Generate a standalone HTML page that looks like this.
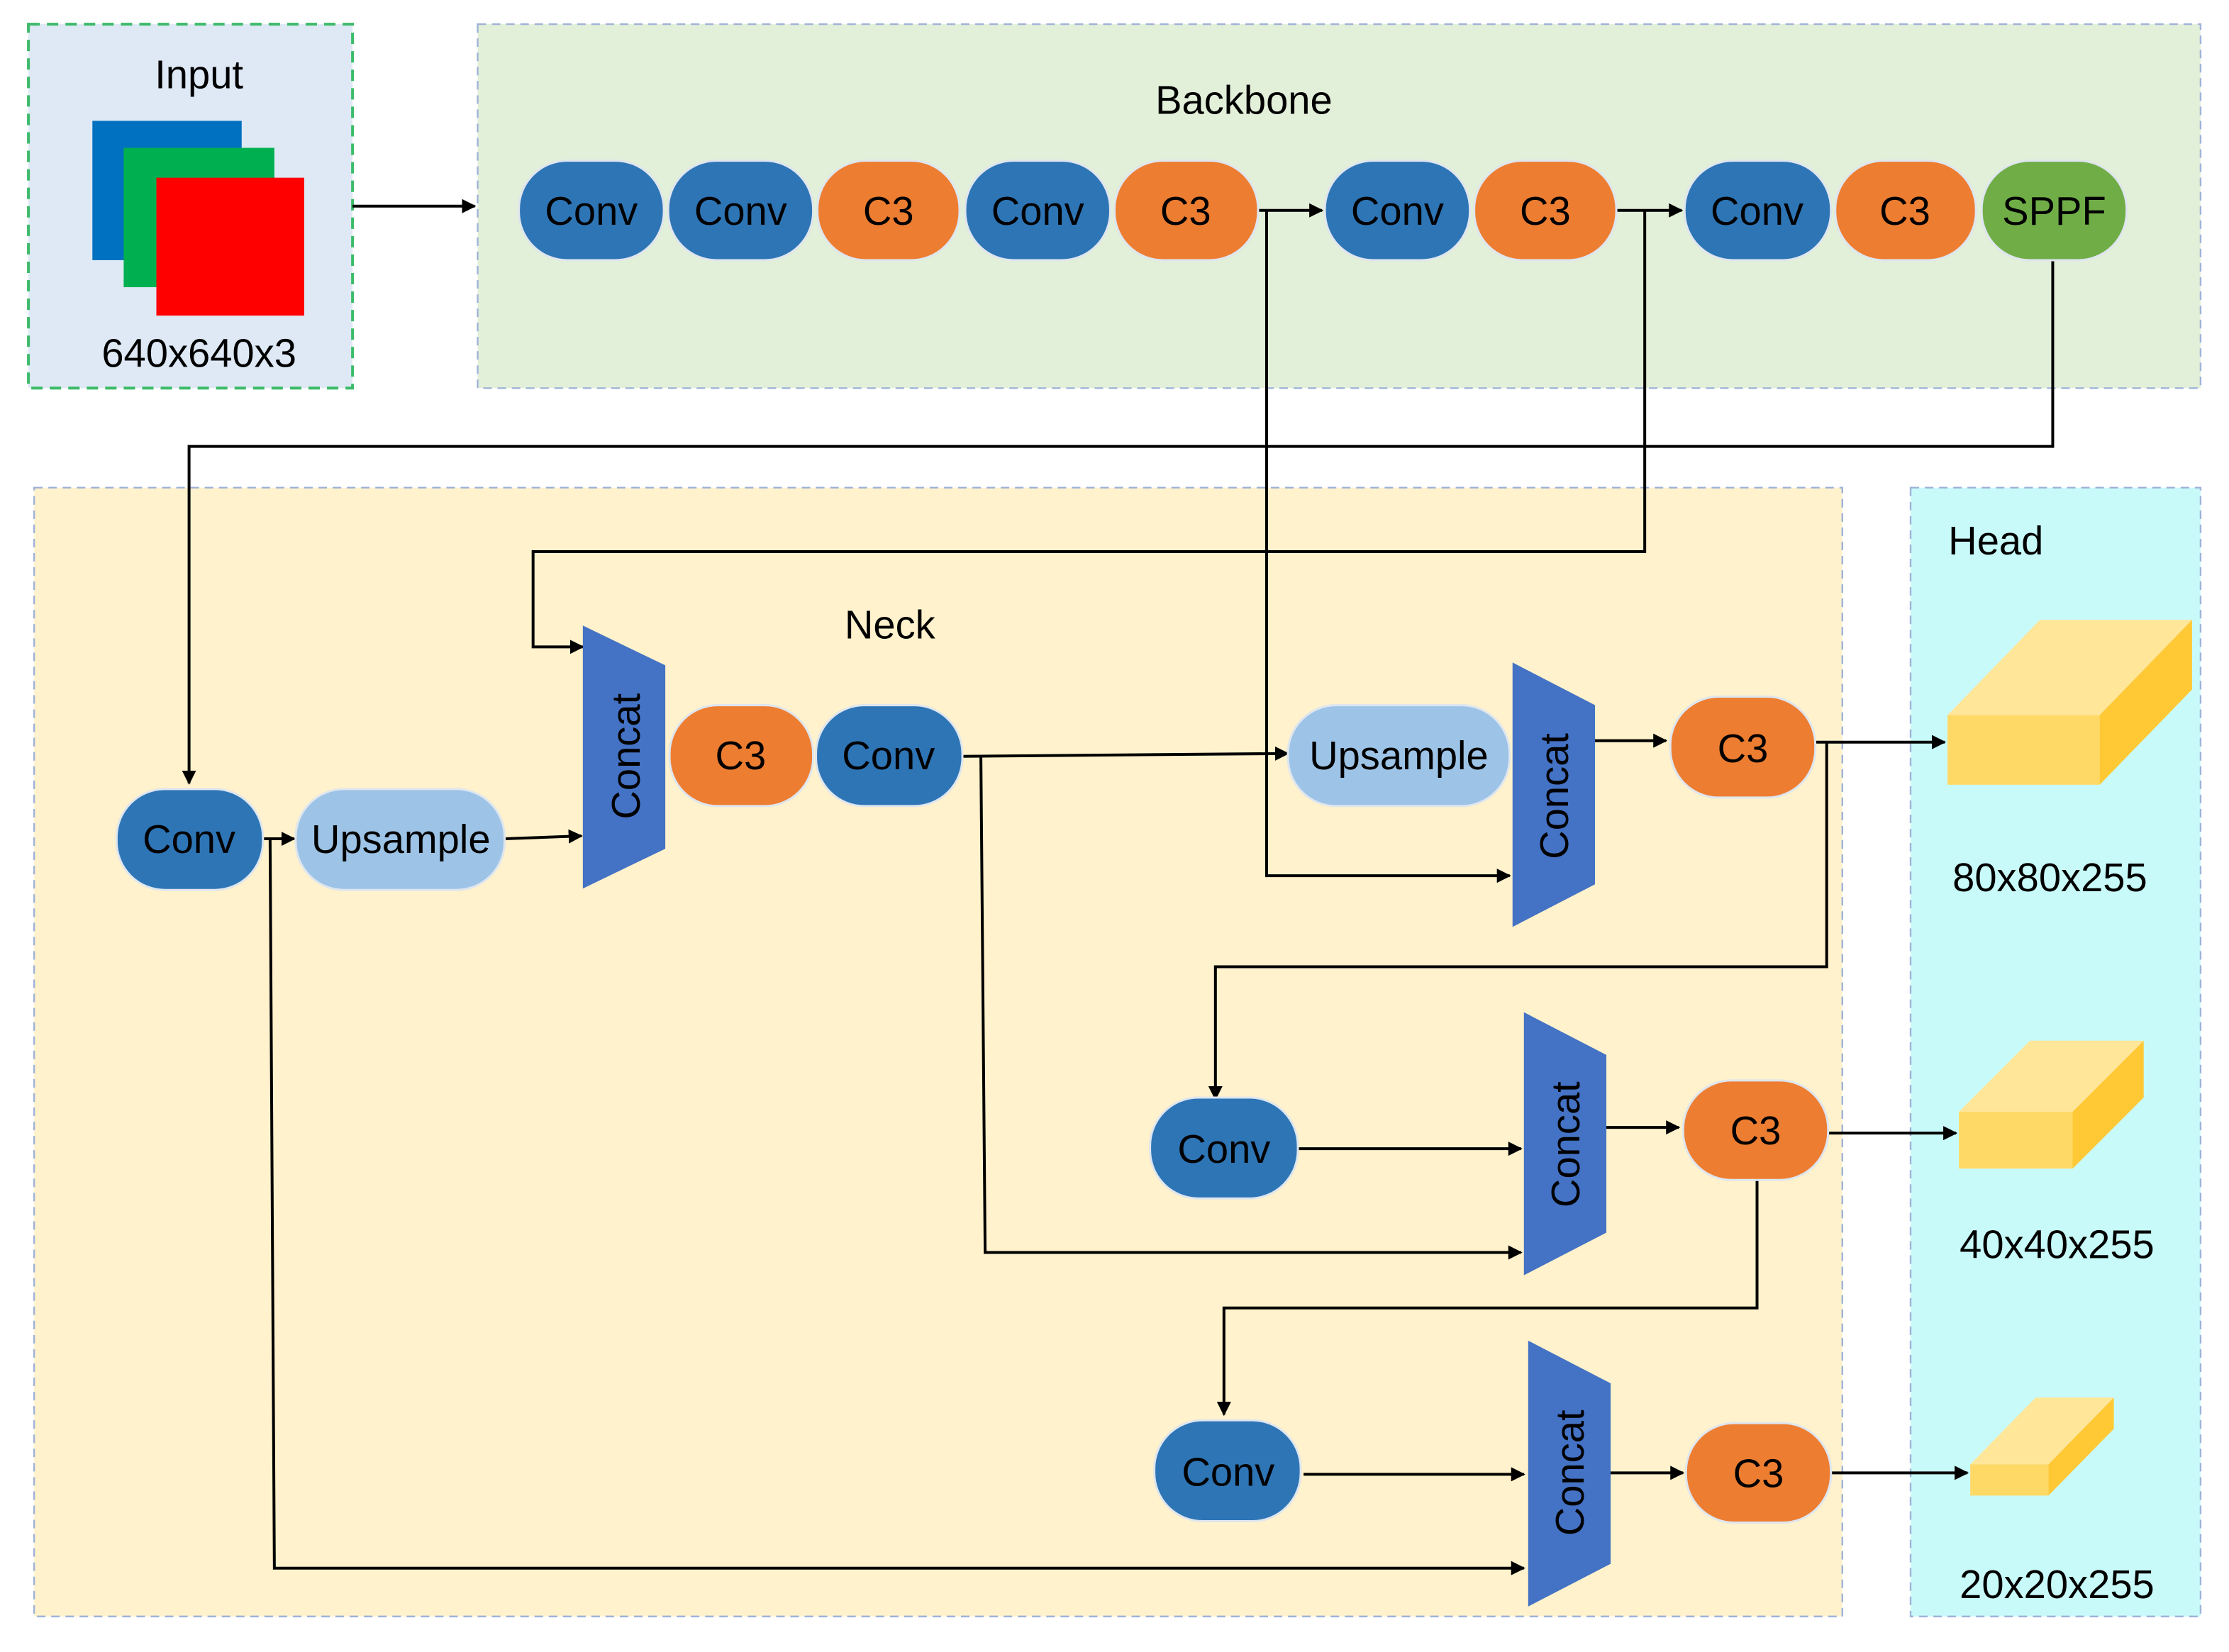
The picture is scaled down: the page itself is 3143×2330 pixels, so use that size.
<!DOCTYPE html>
<html><head><meta charset="utf-8"><style>
html,body{margin:0;padding:0;background:#fff;}
svg{display:block;}
text{font-family:"Liberation Sans",sans-serif;}
</style></head><body>
<svg width="3143" height="2330" viewBox="0 0 1568 1162" preserveAspectRatio="none" xmlns="http://www.w3.org/2000/svg">
<defs>
<marker id="a" markerWidth="10" markerHeight="10" refX="9" refY="5" orient="auto" markerUnits="userSpaceOnUse">
<path d="M0,0 L10,5 L0,10 z" fill="#000"/></marker>
</defs>
<rect x="20" y="17" width="228" height="256" fill="#dee9f5" stroke="#3dbb6a" stroke-width="2" stroke-dasharray="8,5"/>
<rect x="336" y="17" width="1212" height="256" fill="#e2efd9" stroke="#9fb3d8" stroke-width="1.2" stroke-dasharray="6,4"/>
<rect x="24" y="343" width="1272" height="794" fill="#fff2cc" stroke="#9fb3d8" stroke-width="1.2" stroke-dasharray="6,4"/>
<rect x="1344" y="343" width="204" height="794" fill="#c9fafa" stroke="#9fb3d8" stroke-width="1.2" stroke-dasharray="6,4"/>
<g font-size="28" text-anchor="middle" fill="#000">
<text x="140" y="62">Input</text>
<text x="140" y="258">640x640x3</text>
<text x="875" y="80">Backbone</text>
<text x="626" y="449">Neck</text>
<text x="1404" y="390">Head</text>
<text x="1442" y="627">80x80x255</text>
<text x="1447" y="885">40x40x255</text>
<text x="1447" y="1124">20x20x255</text>
</g>
<rect x="65" y="85" width="105" height="98" fill="#0070c0"/>
<rect x="87" y="104" width="106" height="98" fill="#00b050"/>
<rect x="110" y="125" width="104" height="97" fill="#ff0000"/>
<g stroke="#000" stroke-width="2" fill="none">
<path d="M248,145 H334" marker-end="url(#a)"/>
<path d="M885,148 H930" marker-end="url(#a)"/>
<path d="M1137,148 H1183" marker-end="url(#a)"/>
<path d="M1444,183 V314 H133 V551" marker-end="url(#a)"/>
<path d="M185,590 H207" marker-end="url(#a)"/>
<path d="M355,590 L409,588" marker-end="url(#a)"/>
<path d="M1157,148 V388 H375 V455 H410" marker-end="url(#a)"/>
<path d="M677,532 L906,530" marker-end="url(#a)"/>
<path d="M891,148 V616 H1062" marker-end="url(#a)"/>
<path d="M1122,521 H1172" marker-end="url(#a)"/>
<path d="M1277,522 H1368" marker-end="url(#a)"/>
<path d="M1285,522 V680 H855 V773" marker-end="url(#a)"/>
<path d="M913,808 H1070" marker-end="url(#a)"/>
<path d="M690,532 L693,881 H1070" marker-end="url(#a)"/>
<path d="M1130,793 H1181" marker-end="url(#a)"/>
<path d="M1286,797 H1376" marker-end="url(#a)"/>
<path d="M1236,830 V920 H861 V995" marker-end="url(#a)"/>
<path d="M917,1037 H1072" marker-end="url(#a)"/>
<path d="M190,590 L193,1103 H1072" marker-end="url(#a)"/>
<path d="M1133,1036 H1184" marker-end="url(#a)"/>
<path d="M1288,1036 H1384" marker-end="url(#a)"/>
</g>
<g stroke="#dfe6ee" stroke-width="1.5">
<rect x="365" y="113" width="102" height="70" rx="34" fill="#2e75b6"/>
<rect x="470" y="113" width="102" height="70" rx="34" fill="#2e75b6"/>
<rect x="575" y="113" width="100" height="70" rx="34" fill="#ed7d31"/>
<rect x="679" y="113" width="102" height="70" rx="34" fill="#2e75b6"/>
<rect x="784" y="113" width="101" height="70" rx="34" fill="#ed7d31"/>
<rect x="932" y="113" width="102" height="70" rx="34" fill="#2e75b6"/>
<rect x="1037" y="113" width="100" height="70" rx="34" fill="#ed7d31"/>
<rect x="1185" y="113" width="103" height="70" rx="34" fill="#2e75b6"/>
<rect x="1291" y="113" width="99" height="70" rx="34" fill="#ed7d31"/>
<rect x="1394" y="113" width="102" height="70" rx="34" fill="#70ad47"/>
<rect x="82" y="555" width="103" height="71" rx="34" fill="#2e75b6"/>
<rect x="208" y="555" width="147" height="71" rx="34" fill="#9dc3e6"/>
<rect x="471" y="496" width="101" height="71" rx="34" fill="#ed7d31"/>
<rect x="574" y="496" width="103" height="71" rx="34" fill="#2e75b6"/>
<rect x="906" y="496" width="156" height="71" rx="34" fill="#9dc3e6"/>
<rect x="1175" y="490" width="102" height="71" rx="34" fill="#ed7d31"/>
<rect x="809" y="772" width="104" height="71" rx="34" fill="#2e75b6"/>
<rect x="1184" y="760" width="102" height="70" rx="34" fill="#ed7d31"/>
<rect x="812" y="999" width="103" height="71" rx="34" fill="#2e75b6"/>
<rect x="1186" y="1001" width="102" height="70" rx="34" fill="#ed7d31"/>
</g>
<g font-size="28" text-anchor="middle" fill="#000">
<text x="416" y="158">Conv</text><text x="521" y="158">Conv</text><text x="625" y="158">C3</text>
<text x="730" y="158">Conv</text><text x="834" y="158">C3</text><text x="983" y="158">Conv</text>
<text x="1087" y="158">C3</text><text x="1236" y="158">Conv</text><text x="1340" y="158">C3</text>
<text x="1445" y="158">SPPF</text>
<text x="133" y="600">Conv</text><text x="282" y="600">Upsample</text>
<text x="521" y="541">C3</text><text x="625" y="541">Conv</text>
<text x="984" y="541">Upsample</text><text x="1226" y="536">C3</text>
<text x="861" y="818">Conv</text><text x="1235" y="805">C3</text>
<text x="864" y="1045">Conv</text><text x="1237" y="1046">C3</text>
</g>
<g fill="#4472c4">
<polygon points="410,440 468,468 468,597 410,625"/>
<polygon points="1064,466 1122,496 1122,622 1064,652"/>
<polygon points="1072,712 1130,742 1130,867 1072,897"/>
<polygon points="1075,943 1133,973 1133,1100 1075,1130"/>
</g>
<g font-size="28" text-anchor="middle" fill="#000">
<text transform="translate(450,532) rotate(-90)">Concat</text>
<text transform="translate(1103,560) rotate(-90)">Concat</text>
<text transform="translate(1111,805) rotate(-90)">Concat</text>
<text transform="translate(1114,1036) rotate(-90)">Concat</text>
</g>
<g>
<polygon points="1370,503 1477,503 1542,436 1435,436" fill="#ffe699"/>
<polygon points="1477,503 1542,436 1542,485 1477,552" fill="#ffc935"/>
<rect x="1370" y="503" width="107" height="49" fill="#ffd966"/>
<polygon points="1378,782 1458,782 1508,732 1428,732" fill="#ffe699"/>
<polygon points="1458,782 1508,732 1508,772 1458,822" fill="#ffc935"/>
<rect x="1378" y="782" width="80" height="40" fill="#ffd966"/>
<polygon points="1386,1030 1441,1030 1487,983 1432,983" fill="#ffe699"/>
<polygon points="1441,1030 1487,983 1487,1005 1441,1052" fill="#ffc935"/>
<rect x="1386" y="1030" width="55" height="22" fill="#ffd966"/>
</g>
</svg>
</body></html>
